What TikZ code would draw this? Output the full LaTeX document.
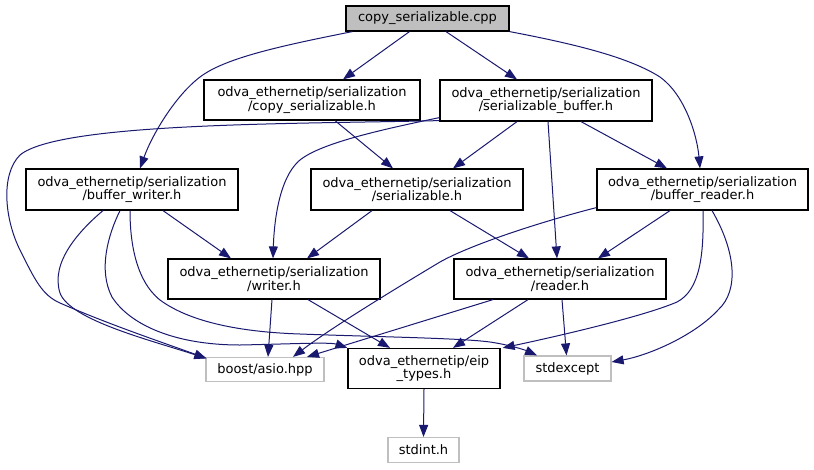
\documentclass[tikz,border=0pt]{standalone}
\usepackage{fontspec}
\setmainfont{DejaVu Sans}
\usetikzlibrary{arrows.meta,calc}
\definecolor{edgeblue}{RGB}{25,25,112}
\definecolor{grayline}{RGB}{191,191,191}
\begin{document}
\begin{tikzpicture}[x=1pt,y=-1pt,
  box/.style={draw=black, line width=1.2pt, inner sep=0pt, align=center, font=\fontsize{13}{13.5}\selectfont},
  ext/.style={box, draw=grayline},
  edge/.style={draw=edgeblue, line width=1pt, -{Triangle[length=12pt,width=9pt]}}
]
\useasboundingbox (0,0) rectangle (814,469);
\node[box, fill=grayline, minimum width=163pt, minimum height=25pt] (cpp) at (427.5,18.5) {copy\_serializable.cpp};
\node[box, minimum width=216pt, minimum height=40pt] (copy) at (312,100) {odva\_ethernetip/serialization\\/copy\_serializable.h};
\node[box, minimum width=212pt, minimum height=41pt] (sbuf) at (546,100.5) {odva\_ethernetip/serialization\\/serializable\_buffer.h};
\node[box, minimum width=212pt, minimum height=41pt] (bw) at (132,189.5) {odva\_ethernetip/serialization\\/buffer\_writer.h};
\node[box, minimum width=212pt, minimum height=41pt] (ser) at (417,189.5) {odva\_ethernetip/serialization\\/serializable.h};
\node[box, minimum width=211pt, minimum height=41pt] (br) at (702.5,189.5) {odva\_ethernetip/serialization\\/buffer\_reader.h};
\node[box, minimum width=212pt, minimum height=40pt] (wr) at (274,279) {odva\_ethernetip/serialization\\/writer.h};
\node[box, minimum width=212pt, minimum height=40pt] (rd) at (560,279) {odva\_ethernetip/serialization\\/reader.h};
\node[ext, minimum width=118pt, minimum height=24pt] (asio) at (265,369.5) {boost/asio.hpp};
\node[box, minimum width=152pt, minimum height=40pt] (eip) at (424,368.5) {odva\_ethernetip/eip\\\_types.h};
\node[ext, minimum width=87pt, minimum height=25pt] (stdexc) at (567.5,368.5) {stdexcept};
\node[ext, minimum width=71pt, minimum height=25pt] (stdint) at (423.5,450) {stdint.h};

% cpp
\draw[edge] ([xshift=7]cpp.south west) .. controls (280,46) and (225,58) .. (200,77) .. controls (175,96) and (152,135) .. ([xshift=8]bw.north);
\draw[edge] ([xshift=-18]cpp.south) -- ([xshift=31]copy.north);
\draw[edge] ([xshift=18.5]cpp.south) -- ([xshift=-29]sbuf.north);
\draw[edge] (cpp.south east) .. controls (580,45) and (630,58) .. (660,77) .. controls (685,95) and (697,135) .. ([xshift=-2.5]br.north);
% copy
\draw[edge] ([xshift=23]copy.south) -- ([xshift=-24]ser.north);
% sbuf
\draw[edge] ([xshift=-29]sbuf.south) -- ([xshift=36]ser.north);
\draw[edge] ([xshift=35]sbuf.south) -- ([xshift=-35.5]br.north);
\draw[edge] ([xshift=2]sbuf.south) -- ([xshift=-3]rd.north);
\draw[edge] ($(sbuf.south west)+(0,-4)$) .. controls (380,130) and (310,145) .. (295,165) .. controls (278,185) and (274,225) .. ([xshift=-1]wr.north);
\draw[edge] ($(sbuf.south west)+(0,-1)$) .. controls (300,124) and (60,122) .. (20,155) .. controls (0,175) and (5,220) .. (20,250) .. controls (35,280) and (42,295) .. (60,303) .. controls (110,325) and (170,345) .. ($(asio.north west)+(1,1.5)$);
% bw
\draw[edge] ([xshift=31]bw.south) -- ([xshift=-43]wr.north);
\draw[edge] ([xshift=-29]bw.south) .. controls (80,230) and (50,262) .. (60,293) .. controls (70,320) and (150,340) .. ($(asio.north west)+(1,1.5)$);
\draw[edge] ([xshift=-12]bw.south) .. controls (108,235) and (98,270) .. (112,297) .. controls (130,325) and (175,345) .. (240,345) .. controls (290,344) and (330,342) .. (eip.north west);
\draw[edge] ([xshift=-2]bw.south) .. controls (130,240) and (135,280) .. (160,300) .. controls (190,322) and (240,332) .. (300,334) .. controls (380,337) and (460,338) .. (490,342) .. controls (510,345) and (525,350) .. ([xshift=-30.5]stdexc.north);
% ser
\draw[edge] ([xshift=-45]ser.south) -- ([xshift=33]wr.north);
\draw[edge] ([xshift=33]ser.south) -- ([xshift=-31]rd.north);
% br
\draw[edge] ($(br.south west)+(0,-3)$) .. controls (540,222) and (470,245) .. (440,262) .. controls (410,280) and (335,325) .. ([xshift=28]asio.north);
\draw[edge] ([xshift=-32.5]br.south) -- ([xshift=38]rd.north);
\draw[edge] ([xshift=0.5]br.south) .. controls (704,255) and (700,290) .. (677,302) .. controls (640,318) and (540,340) .. ($(eip.north east)+(2,0)$);
\draw[edge] ([xshift=9.5]br.south) .. controls (735,250) and (740,290) .. (718,310) .. controls (695,335) and (650,355) .. ([yshift=6.5]stdexc.east);
% wr
\draw[edge] ([xshift=-2]wr.south) -- ([xshift=3]asio.north);
\draw[edge] ([xshift=34]wr.south) -- ([xshift=-34]eip.north);
% rd
\draw[edge] ([xshift=-67]rd.south) -- ([xshift=42]asio.north);
\draw[edge] ([xshift=-32]rd.south) -- ([xshift=29]eip.north);
\draw[edge] ([xshift=2]rd.south) -- ([xshift=-1]stdexc.north);
% eip
\draw[edge] (eip.south) -- (stdint.north);
\end{tikzpicture}
\end{document}
